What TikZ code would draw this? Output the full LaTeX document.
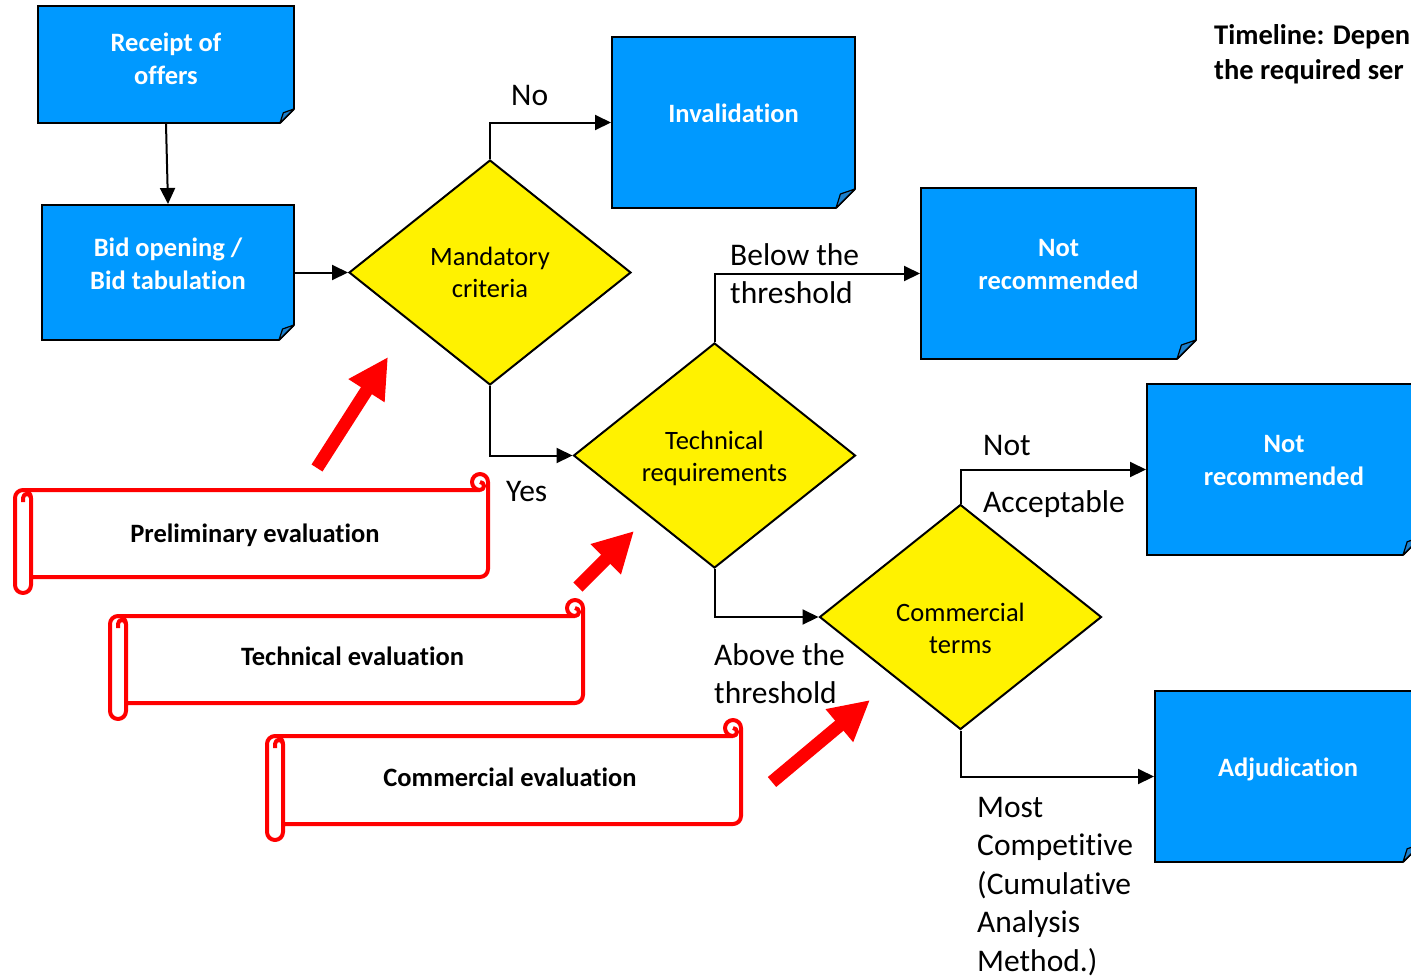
\documentclass[tikz,border=0pt]{standalone}
\usepackage{fontspec}
\setmainfont{Carlito}[Ligatures=NoCommon]
\usetikzlibrary{shapes.geometric,arrows.meta}

\definecolor{boxblue}{RGB}{0,153,255}
\definecolor{flapblue}{RGB}{28,128,205}

\tikzset{
  bluebox/.style={draw, line width=2pt, fill=boxblue, text=white, inner sep=0pt,
    font=\fontsize{26.5}{32.5}\selectfont\bfseries, align=center, text depth=18pt},
  decision/.style={diamond, draw, line width=2pt, fill=yellow, aspect=1.25, inner sep=0pt,
    minimum width=282pt, minimum height=225pt, font=\fontsize{26.5}{32}\selectfont, align=center},
  flow/.style={line width=2pt, -{Triangle[length=16pt,width=15pt]}},
  lbl/.style={inner sep=0pt, font=\fontsize{31.5}{38.5}\selectfont, align=left},
  scrolltext/.style={inner sep=0pt, font=\fontsize{26.5}{32}\selectfont\bfseries},
  scrollline/.style={draw=red, line width=4pt, line join=round},
  bigarrow/.style={red, line width=13pt, -{Triangle[length=40pt,width=40pt]}}
}

% folded corner of a blue box
\newcommand\dogear[2][19]{%
  \fill[white] ([xshift=-#1pt]#2.south east) -- ([xshift=2pt,yshift=-2pt]#2.south east) -- ([yshift=#1pt]#2.south east) -- cycle;
  \draw[line width=2pt] ([xshift=-#1pt,yshift=1pt]#2.south east) -- ([xshift=-1pt,yshift=#1pt]#2.south east);
  \filldraw[fill=flapblue, line width=1.2pt, line join=round] ([xshift=-#1pt,yshift=1pt]#2.south east)
    -- ([xshift=-0.78*#1pt,yshift=0.75*#1pt]#2.south east) -- ([xshift=-1pt,yshift=#1pt]#2.south east) -- cycle;
}

% horizontal scroll: left, top, right, bottom
\newcommand\hscroll[4]{%
  \filldraw[scrollline, fill=white] (#1,#2+24) arc (180:270:8) -- (#3-8,#2+16) arc (90:360:8)
    -- (#3,#4-24) arc (0:90:8) -- (#1+16,#4-16) -- (#1+16,#4-8) arc (0:180:8) -- cycle;
  \draw[scrollline] (#1+8,#2+16) arc (270:360:8) -- (#1+16,#4-16);
  \draw[scrollline] (#1+16,#2+24) arc (0:-180:4) -- (#1+8,#2+28);
  \draw[scrollline] (#3-8,#2+16) arc (90:-90:4);
}

\begin{document}
\begin{tikzpicture}[x=1pt,y=-1pt]
    \useasboundingbox (0,0) rectangle (1411,978);
    \clip (0,0) rectangle (1411,978);

    % Boxes
    \node[bluebox, minimum width=256pt, minimum height=117pt, text depth=12pt] (receipt) at (166,64.5) {Receipt of\\offers};
    \node[bluebox, minimum width=252pt, minimum height=135pt] (bidopen) at (168,272.5) {Bid opening /\\Bid tabulation};
    \node[bluebox, minimum width=243pt, minimum height=171pt] (invalid) at (733.5,122.5) {Invalidation};
    \node[bluebox, minimum width=275pt, minimum height=171pt] (notrecA) at (1058.5,273.5) {Not\\recommended};
    \node[bluebox, minimum width=274pt, minimum height=171pt] (notrecB) at (1284,469.5) {Not\\recommended};
    \node[bluebox, minimum width=266pt, minimum height=171pt] (adjud) at (1288,776.5) {Adjudication};
    \dogear[15]{receipt}
    \dogear[16]{bidopen}
    \dogear[20]{invalid}
    \dogear[20]{notrecA}
    \dogear{notrecB}
    \dogear{adjud}

    % Decisions
    \node[decision] (mandat) at (490,272.5) {Mandatory\\criteria};
    \node[decision, text height=56pt] (techreq) at (714.5,455.5) {Technical\\requirements};
    \node[decision, text height=74pt] (commterm) at (960.5,617) {Commercial\\terms};

    % Connectors
    \draw[flow] (receipt.south) -- (bidopen.north);
    \draw[flow] (bidopen.east) -- (mandat.west);
    \draw[flow] (mandat.north) |- (invalid.west);
    \draw[flow] (mandat.south) |- (techreq.west);
    \draw[flow] (techreq.north) |- (notrecA.west);
    \draw[flow] (techreq.south) |- (commterm.west);
    \draw[flow] (commterm.north) |- (notrecB.west);
    \draw[flow] (commterm.south) |- (adjud.west);

    % Labels
    \node[lbl, anchor=base west] (lblno) at (511,105) {No};
    \node[lbl, anchor=base west] (lblyes) at (506,501) {Yes};
    \node[lbl, anchor=north west] (lblbelow) at (730,243) {Below the\\threshold};
    \node[lbl, anchor=north west] (lblabove) at (714,643) {Above the\\threshold};
    \node[lbl, anchor=base west] (lblnot) at (983,455) {Not};
    \node[lbl, anchor=base west] (lblacc) at (983,512) {Acceptable};
    \node[lbl, anchor=north west] (lblmost) at (977,797) {Most\\Competitive\\(Cumulative\\Analysis\\Method.)};
    \node[anchor=north west, inner sep=0pt, align=left, font=\fontsize{28.5}{35}\selectfont\bfseries] (timeline) at (1214,24) {Timeline: Depen\\the required ser};

    % Scrolls
    \hscroll{15}{474}{488}{593}
    \node[scrolltext] (prelim) at (255,535) {Preliminary evaluation};
    \hscroll{110}{600}{583}{719}
    \node[scrolltext] (techeval) at (352.5,656) {Technical evaluation};
    \hscroll{267}{720}{741}{840}
    \node[scrolltext] (commeval) at (510,777) {Commercial evaluation};

    % Red arrows
    \coordinate (arrAs) at (317,468);
    \coordinate (arrAe) at (388,357);
    \coordinate (arrBs) at (578,587);
    \coordinate (arrBe) at (634,531);
    \coordinate (arrCs) at (772,782);
    \coordinate (arrCe) at (870,700);
    \draw[bigarrow] (arrAs) -- (arrAe);
    \draw[bigarrow] (arrBs) -- (arrBe);
    \draw[bigarrow] (arrCs) -- (arrCe);
\end{tikzpicture}
\end{document}
